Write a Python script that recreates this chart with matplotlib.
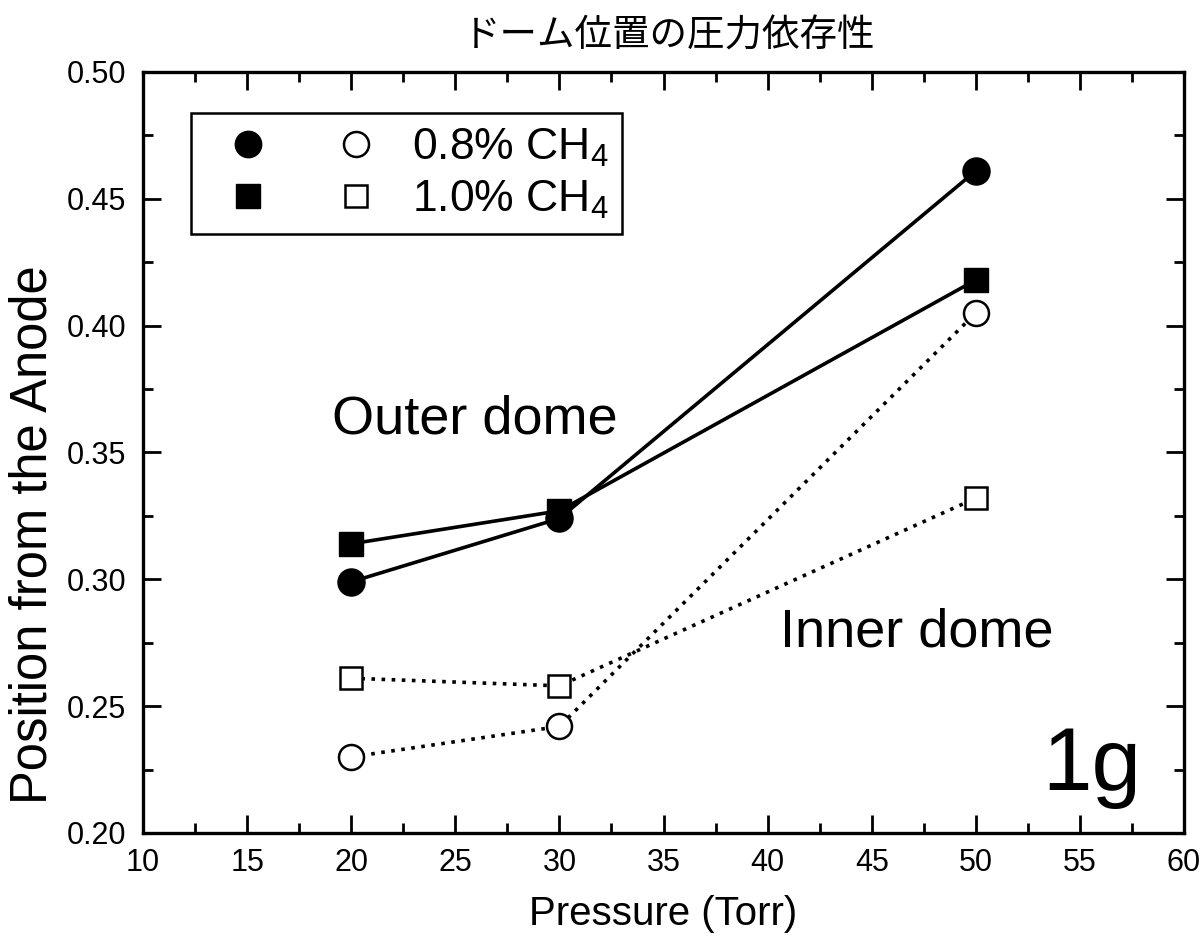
import matplotlib
matplotlib.use("Agg")
import matplotlib.pyplot as plt
from matplotlib.legend_handler import HandlerTuple
from matplotlib.lines import Line2D
from matplotlib.ticker import MultipleLocator

plt.rcParams['font.family'] = ['Liberation Sans', 'Noto Sans CJK JP', 'DejaVu Sans']
plt.rcParams['mathtext.fontset'] = 'custom'
plt.rcParams['mathtext.rm'] = 'Liberation Sans'
plt.rcParams['mathtext.it'] = 'Liberation Sans:italic'

# Pressure (Torr)
pressure = [20, 30, 50]
# Dome positions from the anode
outer_08 = [0.299, 0.324, 0.461]
outer_10 = [0.314, 0.327, 0.418]
inner_08 = [0.230, 0.242, 0.405]
inner_10 = [0.261, 0.258, 0.332]

series_labels = ['0.8% CH$_4$', '1.0% CH$_4$']

fig = plt.figure(figsize=(12.04, 9.47), dpi=100)
ax = fig.add_axes([0.1188, 0.1204, 0.8646, 0.8036])

lw = 2.6
dots = (0, (1.0, 1.8))
ax.plot(pressure, outer_08, '-', color='black', lw=lw, marker='o', ms=19.5,
        mfc='black', mec='black', zorder=3)
ax.plot(pressure, outer_10, '-', color='black', lw=lw, marker='s', ms=17.5,
        mfc='black', mec='black', zorder=3)
ax.plot(pressure, inner_08, color='black', ls=dots, lw=lw, marker='o', ms=18,
        mfc='white', mec='black', mew=1.8, zorder=3)
ax.plot(pressure, inner_10, color='black', ls=dots, lw=lw, marker='s', ms=16.5,
        mfc='white', mec='black', mew=1.8, zorder=3)

ax.set_xlim(10, 60)
ax.set_ylim(0.20, 0.50)
ax.xaxis.set_major_locator(MultipleLocator(5))
ax.xaxis.set_minor_locator(MultipleLocator(2.5))
ax.yaxis.set_major_locator(MultipleLocator(0.05))
ax.yaxis.set_minor_locator(MultipleLocator(0.025))
ax.yaxis.set_major_formatter(plt.FormatStrFormatter('%.2f'))
ax.tick_params(which='both', direction='in', top=True, right=True,
               width=2, labelsize=22, color='black')
ax.tick_params(axis='x', which='major', length=13, pad=11)
ax.tick_params(axis='y', which='major', length=13, pad=12)
ax.tick_params(which='minor', length=7)
for sp in ax.spines.values():
    sp.set_linewidth(2.4)

ax.set_xlabel('Pressure (Torr)', fontsize=29, labelpad=12)
ax.set_ylabel('Position from the Anode', fontsize=36.5, ha='center', va='center')
ax.yaxis.set_label_coords(-0.106, 0.392)
ax.set_title('ドーム位置の圧力依存性', fontsize=27, pad=18, x=0.505,
             family=['Noto Sans CJK JP', 'DejaVu Sans'])

ax.text(19.1, 0.363, 'Outer dome', fontsize=39, ha='left', va='center')
ax.text(40.6, 0.279, 'Inner dome', fontsize=39, ha='left', va='center')
ax.text(53.2, 0.217, '1g', fontsize=64, ha='left', va='baseline')

h_fc = Line2D([], [], ls='none', marker='o', ms=19, mfc='black', mec='black')
h_oc = Line2D([], [], ls='none', marker='o', ms=18, mfc='white', mec='black', mew=1.8)
h_fs = Line2D([], [], ls='none', marker='s', ms=17, mfc='black', mec='black')
h_os = Line2D([], [], ls='none', marker='s', ms=16.5, mfc='white', mec='black', mew=1.8)
leg = ax.legend([(h_fc, h_oc), (h_fs, h_os)], series_labels,
                handler_map={tuple: HandlerTuple(ndivide=None, pad=0.5)},
                loc='upper left', bbox_to_anchor=(0.046, 0.946),
                fontsize=32, handlelength=4.4, handletextpad=0.27,
                borderpad=0.3, labelspacing=0.22, borderaxespad=0,
                fancybox=False, framealpha=1, edgecolor='black')
leg.get_frame().set_linewidth(1.8)

fig.savefig('out.png', dpi=100)
